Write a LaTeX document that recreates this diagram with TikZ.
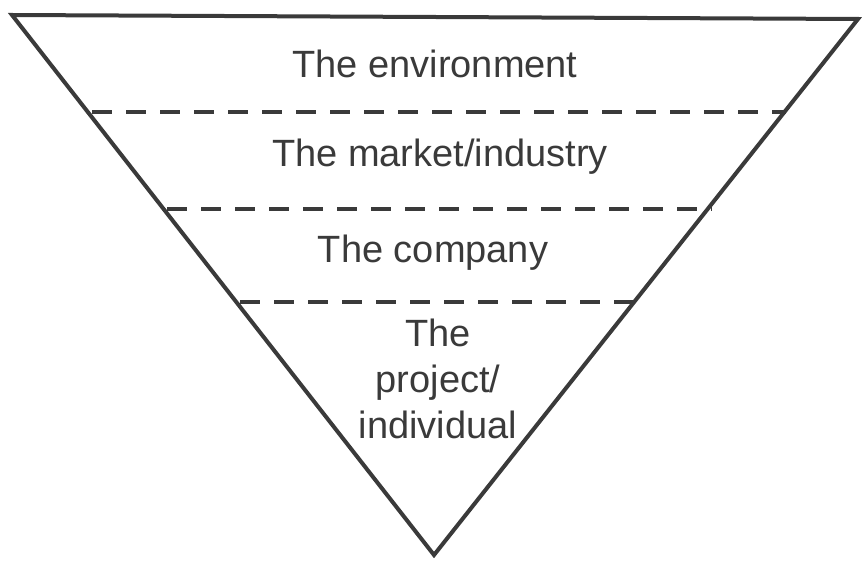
\documentclass[tikz,border=0pt]{standalone}
\usepackage{fontspec}
\setmainfont{Liberation Sans}
\definecolor{ink}{RGB}{58,58,58}
\begin{document}
\begin{tikzpicture}[x=1pt,y=-1pt,
  edge/.style={draw=ink,line width=4pt,line join=miter},
  divider/.style={draw=ink,line width=4pt,dash pattern=on 20pt off 14pt},
  label/.style={text=ink,font=\fontsize{38}{46}\selectfont,anchor=base,inner sep=0pt,align=center}]
\useasboundingbox (0,0) rectangle (862,561);
\coordinate (A) at (12,15);
\coordinate (B) at (858,19);
\coordinate (C) at (434,555);
\draw[edge] (A) -- (B) -- (C) -- cycle;
\coordinate (L1) at (92,112); \coordinate (R1) at (786,112);
\coordinate (L2) at (167,209); \coordinate (R2) at (712,209);
\coordinate (L3) at (240,302); \coordinate (R3) at (636,302);
\draw[divider] (L1) -- (R1);
\draw[divider] (L2) -- (R2);
\draw[divider] (L3) -- (R3);
\node[label] (env) at (435,78) {The environment};
\node[label] (mkt) at (440,167) {The market/industry};
\node[label] (cmp) at (433,263) {The company};
\node[label] (prj) at (438,438) {The\\project/\\individual};
\end{tikzpicture}
\end{document}
